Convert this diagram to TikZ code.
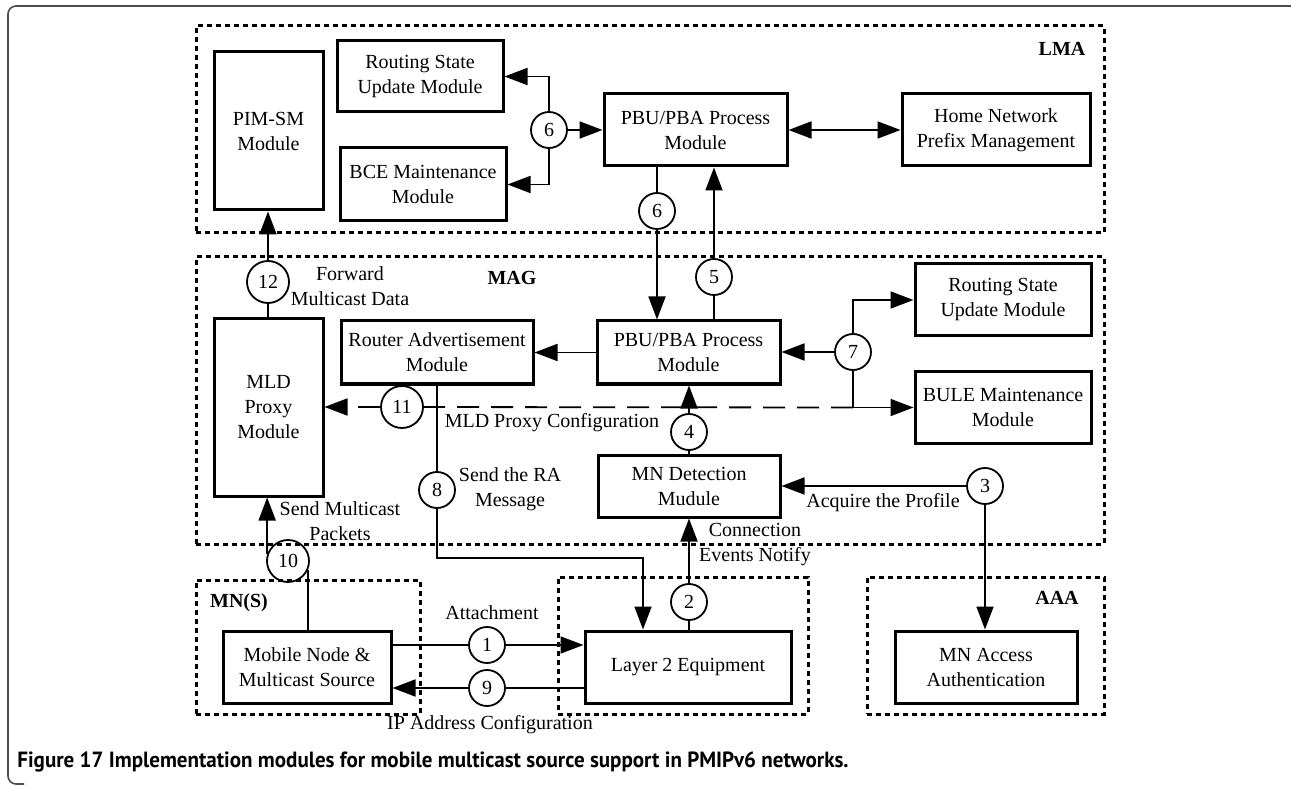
\documentclass[tikz,border=0pt]{standalone}
\usepackage{fontspec}
\setmainfont{Liberation Serif}
\newfontfamily\capfont{PT Sans}
\usetikzlibrary{arrows.meta}
\begin{document}
\begin{tikzpicture}[x=0.5pt,y=-0.5pt,
  font=\fontsize{10}{12.5}\selectfont,
  module/.style={draw, line width=1.5pt, align=center, inner sep=0pt},
  group/.style={draw, line width=1.5pt, dash pattern=on 2.6pt off 1.9pt, inner sep=0pt},
  num/.style={draw, circle, line width=0.9pt, minimum size=18pt, inner sep=0pt},
  bignum/.style={num, minimum size=21pt},
  link/.style={line width=0.9pt},
  tip/.style={-{Triangle[length=11.5pt,width=8.5pt]}},
  arr/.style={link, tip},
  longdash/.style={link, dash pattern=on 11pt off 6pt},
  lbl/.style={align=center, inner sep=0pt},
  grouptitle/.style={font=\fontsize{10}{12}\selectfont\bfseries, inner sep=0pt}
]
\useasboundingbox (0,0) rectangle (1291,786);

% figure frame
\draw[black!70, line width=0.8pt, rounded corners=4pt] (1291,6) -- (8,6) -- (8,784) -- (24,784);

% entity groups
\node[group, minimum width=454pt, minimum height=103.5pt] (lma) at (650,129.5) {};
\node[group, minimum width=454pt, minimum height=143.5pt] (mag) at (650,400.5) {};
\node[group, minimum width=112pt, minimum height=67pt] (mns) at (308,647) {};
\node[group, minimum width=125pt, minimum height=68.5pt] (l2g) at (683,645.5) {};
\node[group, minimum width=118.5pt, minimum height=68.5pt] (aaa) at (985.5,645.5) {};

\node[grouptitle] (lmat) at (1062,49) {LMA};
\node[grouptitle] (magt) at (512,278) {MAG};
\node[grouptitle] (mnst) at (239,603) {MN(S)};
\node[grouptitle] (aaat) at (1057,598) {AAA};

% LMA modules
\node[module, minimum width=54.5pt, minimum height=79pt] (pim) at (268.5,131) {PIM-SM\\Module};
\node[module, minimum width=83pt, minimum height=35.5pt] (rsul) at (420,76.5) {Routing State\\Update Module};
\node[module, minimum width=83pt, minimum height=36.5pt] (bce) at (423,184.5) {BCE Maintenance\\Module};
\node[module, minimum width=91.5pt, minimum height=36pt] (pbul) at (695.5,130) {PBU/PBA Process\\Module};
\node[module, minimum width=94pt, minimum height=36pt] (hnp) at (996,130) {Home Network\\Prefix Management};

% MAG modules
\node[module, minimum width=54.5pt, minimum height=88.5pt] (mld) at (268.5,407.5) {MLD\\Proxy\\Module};
\node[module, minimum width=96pt, minimum height=31.5pt] (ra) at (437,352.5) {Router Advertisement\\Module};
\node[module, minimum width=91.5pt, minimum height=31.5pt] (pbum) at (688.5,352.5) {PBU/PBA Process\\Module};
\node[module, minimum width=88pt, minimum height=36pt] (rsum) at (1003,300) {Routing State\\Update Module};
\node[module, minimum width=88pt, minimum height=35.5pt] (bule) at (1003,407.5) {BULE Maintenance\\Module};
\node[module, minimum width=91pt, minimum height=31pt] (mnd) at (689,486) {MN Detection\\Mudule};

% lower modules
\node[module, minimum width=84pt, minimum height=36pt] (mnms) at (307,667) {Mobile Node \&\\Multicast Source};
\node[module, minimum width=103pt, minimum height=36pt] (l2) at (688,667) {Layer 2 Equipment};
\node[module, minimum width=91pt, minimum height=36pt] (mnaa) at (986,667) {MN Access\\Authentication};

% step numbers
\node[num] (c6a) at (549,130) {6};
\node[num] (c6b) at (657,211) {6};
\node[num] (c5) at (714,277) {5};
\node[bignum] (c12) at (268,282) {12};
\node[num] (c7) at (853,352) {7};
\node[bignum] (c11) at (402,407) {11};
\node[num] (c4) at (689,432) {4};
\node[num] (c8) at (437,490) {8};
\node[num] (c3) at (985,486) {3};
\node[num] (c2) at (689,602) {2};
\node[bignum] (c10) at (288,561) {10};
\node[num] (c1) at (487,645) {1};
\node[num] (c9) at (487,688) {9};

% connector labels
\node[lbl] (fwd) at (350,286) {Forward\\Multicast Data};
\node[lbl] (mldcfg) at (552,423) {MLD Proxy Configuration};
\node[lbl] (sendra) at (510,489) {Send the RA\\Message};
\node[lbl] (acq) at (883,503) {Acquire the Profile};
\node[lbl] (conn) at (755,545) {Connection\\Events Notify};
\node[lbl] (smc) at (340,521) {Send Multicast\\Packets};
\node[lbl] (att) at (492,613) {Attachment};
\node[lbl] (ipcfg) at (490,725) {IP Address Configuration};

% LMA connectors
\draw[arr] (c6a) |- (rsul);
\draw[arr] (c6a) |- (bce);
\draw[arr] (c6a) -- (pbul);
\draw[link, {Triangle[length=11.5pt,width=8.5pt]}-{Triangle[length=11.5pt,width=8.5pt]}] (pbul) -- (hnp);
\draw[link] (pbul.south -| c6b) -- (c6b);
\draw[arr] (c6b) -- (c6b |- pbum.north);
\draw[arr] (c5) -- (c5 |- pbul.south);
\draw[link] (pbum.north -| c5) -- (c5);
\draw[arr] (c12) -- (c12 |- pim.south);
\draw[link] (mld.north -| c12) -- (c12);

% MAG connectors
\draw[arr] (pbum) -- (ra);
\draw[arr] (c7) -- (c7 -| pbum.east);
\draw[arr] (c7) |- (rsum);
\draw[arr] (c7) |- (bule);
\coordinate (j7) at (c7 |- bule);
\draw[longdash] (j7) -- (c11);
\draw[longdash, tip] (c11) -- (c11 -| mld.east);
\draw[arr] (c4) -- (c4 |- pbum.south);
\draw[link] (mnd.north -| c4) -- (c4);
\draw[link] (ra.south -| c8) -- (c8);
\coordinate (k8) at (643,558);
\draw[arr] (c8) |- (k8) -- (k8 |- l2.north);
\draw[arr] (c3) -- (c3 -| mnd.east);
\draw[arr] (c3) -- (c3 |- mnaa.north);
\draw[arr] (c2) -- (c2 |- mnd.south);
\draw[link] (l2.north -| c2) -- (c2);

% mobile node connectors
\draw[link] (c10.-25) -- (c10.-25 |- mnms.north);
\draw[arr] (c10.162) -- (c10.162 |- mld.south);
\draw[link] (mnms.east |- c1) -- (c1);
\draw[arr] (c1) -- (c1 -| l2.west);
\draw[link] (l2.west |- c9) -- (c9);
\draw[arr] (c9) -- (c9 -| mnms.east);

% caption
\node[anchor=base west, inner sep=0pt, font=\capfont\bfseries\fontsize{11}{13}\selectfont] (caption) at (17,767)
  {\scalebox{0.956}[1]{Figure 17 Implementation modules for mobile multicast source support in PMIPv6 networks.}};
\end{tikzpicture}
\end{document}
